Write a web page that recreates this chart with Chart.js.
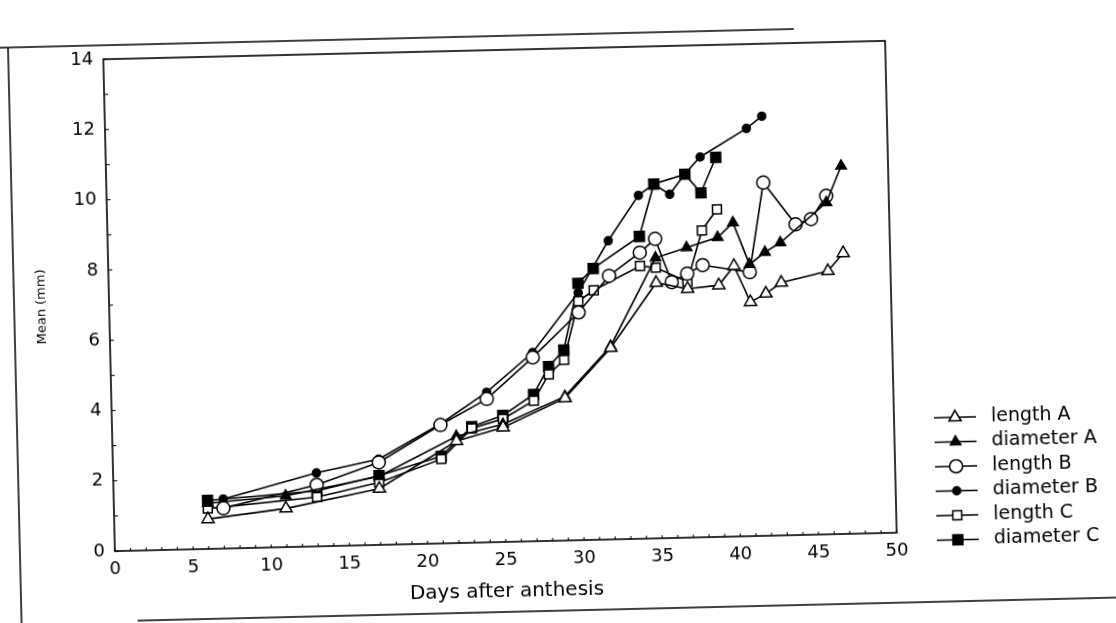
<!DOCTYPE html>
<html>
<head>
<meta charset="utf-8">
<script src="https://cdn.jsdelivr.net/npm/chart.js@4.4.1/dist/chart.umd.min.js"></script>
<style>
  html, body { margin: 0; padding: 0; background: #fff; overflow: hidden; }
  /* the scanned original sits slightly tilted */
  #wrap { width: 1116px; height: 623px; transform: rotate(-1.35deg); transform-origin: 500px 296px; }
</style>
</head>
<body>
<div id="wrap"><canvas id="chart" width="1116" height="623"></canvas></div>
<script>
// Days after anthesis / mean size (mm)
const daysLengthA = [6, 11, 17, 22, 25, 29, 32, 35, 37, 39, 40, 41, 42, 43, 46, 47];
const lengthA     = [0.85, 1.1, 1.6, 2.9, 3.26, 4.05, 5.45, 7.27, 7.08, 7.16, 7.7, 6.66, 6.89, 7.19, 7.49, 7.99];

const daysDiameterA = [6, 11, 17, 22, 25, 29, 32, 35, 37, 39, 40, 41, 42, 43, 46, 47];
const diameterA     = [1.3, 1.46, 1.95, 3.04, 3.35, 4.1, 5.5, 7.98, 8.25, 8.52, 8.93, 7.73, 8.07, 8.33, 9.44, 10.47];

const daysLengthB = [7, 13, 17, 21, 24, 27, 30, 32, 34, 35, 36, 37, 38, 41, 42, 44, 45, 46];
const lengthB     = [1.15, 1.75, 2.35, 3.37, 4.08, 5.23, 6.48, 7.5, 8.14, 8.52, 7.28, 7.51, 7.74, 7.51, 10.05, 8.84, 8.98, 9.63];

const daysDiameterB = [7, 13, 17, 21, 24, 27, 30, 32, 34, 35, 36, 37, 38, 41, 42];
const diameterB     = [1.41, 2.09, 2.44, 3.4, 4.27, 5.37, 7.04, 8.5, 9.77, 10.08, 9.78, 10.35, 10.82, 11.6, 11.94];

const daysLengthC = [6, 13, 17, 21, 23, 25, 27, 28, 29, 30, 31, 34, 35, 37, 38, 39];
const lengthC     = [1.15, 1.4, 1.78, 2.4, 3.25, 3.5, 4.0, 4.74, 5.14, 6.8, 7.1, 7.76, 7.7, 7.28, 8.73, 9.32];

const daysDiameterC = [6, 13, 17, 21, 23, 25, 27, 28, 29, 30, 31, 34, 35, 37, 38, 39];
const diameterC     = [1.38, 1.58, 1.97, 2.48, 3.3, 3.6, 4.18, 4.96, 5.42, 7.31, 7.72, 8.6, 10.08, 10.34, 9.8, 10.8];

const seriesNames = ["length A", "diameter A", "length B", "diameter B", "length C", "diameter C"];
const xTicks = [0, 50, 5];   // min, max, step
const yTicks = [0, 14, 2];

const FONT = '"DejaVu Sans", sans-serif';

const series = [
  { days: daysLengthA,   vals: lengthA,   style: "triangle", r: 7,   filled: false },
  { days: daysDiameterA, vals: diameterA, style: "triangle", r: 6,   filled: true  },
  { days: daysLengthB,   vals: lengthB,   style: "circle",   r: 6.5, filled: false },
  { days: daysDiameterB, vals: diameterB, style: "circle",   r: 4,   filled: true  },
  { days: daysLengthC,   vals: lengthC,   style: "rect",     r: 6.3, filled: false },
  { days: daysDiameterC, vals: diameterC, style: "rect",     r: 7,   filled: true  },
];

const datasets = series.map((s, i) => ({
  label: seriesNames[i],
  data: s.days.map((d, j) => ({ x: d, y: s.vals[j] })),
  borderColor: "#000",
  borderWidth: 1.6,
  tension: 0,
  pointStyle: s.style,
  pointRadius: s.r,
  pointBackgroundColor: s.filled ? "#000" : "#fff",
  pointBorderColor: "#000",
  pointBorderWidth: 1.5,
}));

// same shapes as Chart.js draws them, for the hand-placed legend
function drawMarker(ctx, style, r, filled, x, y) {
  ctx.beginPath();
  if (style === "circle") {
    ctx.arc(x, y, r, 0, Math.PI * 2);
  } else if (style === "rect") {
    const s = r * Math.SQRT1_2;
    ctx.rect(x - s, y - s, 2 * s, 2 * s);
  } else {
    let a = 0;
    ctx.moveTo(x + Math.sin(a) * r, y - Math.cos(a) * r);
    a += Math.PI * 2 / 3;
    ctx.lineTo(x + Math.sin(a) * r, y - Math.cos(a) * r);
    a += Math.PI * 2 / 3;
    ctx.lineTo(x + Math.sin(a) * r, y - Math.cos(a) * r);
    ctx.closePath();
  }
  ctx.fillStyle = filled ? "#000" : "#fff";
  ctx.fill();
  ctx.lineWidth = 1.5;
  ctx.strokeStyle = "#000";
  ctx.stroke();
}

const framePlugin = {
  id: "frame",
  afterDraw(chart) {
    const { ctx, chartArea: a, scales } = chart;
    ctx.save();
    ctx.strokeStyle = "#000";

    // plot box
    ctx.lineWidth = 1.6;
    ctx.strokeRect(a.left, a.top, a.right - a.left, a.bottom - a.top);

    // small inward ticks
    ctx.lineWidth = 1;
    for (let d = xTicks[0]; d <= xTicks[1]; d++) {
      const px = scales.x.getPixelForValue(d);
      ctx.beginPath(); ctx.moveTo(px, a.bottom); ctx.lineTo(px, a.bottom - 3); ctx.stroke();
    }
    for (let v = yTicks[0]; v <= yTicks[1]; v++) {
      const py = scales.y.getPixelForValue(v);
      ctx.beginPath(); ctx.moveTo(a.left, py); ctx.lineTo(a.left + 4, py); ctx.stroke();
    }

    // edges of the scanned page
    ctx.lineWidth = 1.5;
    ctx.beginPath(); ctx.moveTo(0, 36); ctx.lineTo(800, 36); ctx.stroke();
    ctx.beginPath(); ctx.moveTo(14, 36); ctx.lineTo(14, 623); ctx.stroke();
    ctx.beginPath(); ctx.moveTo(130, 612); ctx.lineTo(1116, 612); ctx.stroke();

    // legend
    const rowY = [428, 452.5, 477, 501.5, 526, 550.5];
    ctx.font = "19px " + FONT;
    ctx.textBaseline = "middle";
    series.forEach((s, i) => {
      const y = rowY[i];
      ctx.lineWidth = 1.6;
      ctx.strokeStyle = "#000";
      ctx.beginPath(); ctx.moveTo(931, y); ctx.lineTo(973, y); ctx.stroke();
      drawMarker(ctx, s.style, s.r, s.filled, 952, y);
      ctx.fillStyle = "#000";
      ctx.fillText(seriesNames[i], 988, y);
    });
    ctx.restore();
  }
};

new Chart(document.getElementById("chart"), {
  type: "line",
  data: { datasets },
  options: {
    responsive: false,
    animation: false,
    layout: { padding: { left: 0, top: 50, right: 225, bottom: 0 } },
    plugins: { legend: { display: false }, tooltip: { enabled: false } },
    scales: {
      x: {
        type: "linear",
        min: xTicks[0], max: xTicks[1],
        ticks: { stepSize: xTicks[2], padding: 8, color: "#000", font: { family: FONT, size: 18 } },
        grid: { display: false, drawTicks: false },
        border: { display: false },
        title: { display: true, text: "Days after anthesis", color: "#000",
                 font: { family: FONT, size: 20 }, padding: { top: 4, bottom: 19 } },
        afterFit: s => { s.height = 81; }
      },
      y: {
        min: yTicks[0], max: yTicks[1],
        ticks: { stepSize: yTicks[2], padding: 10, color: "#000", font: { family: FONT, size: 18 } },
        grid: { display: false, drawTicks: false },
        border: { display: false },
        title: { display: true, text: "Mean (mm)", color: "#000",
                 font: { family: FONT, size: 13 }, padding: { top: 34, bottom: 0 } },
        afterFit: s => { s.width = 109; }
      }
    }
  },
  plugins: [framePlugin]
});
</script>
</body>
</html>
